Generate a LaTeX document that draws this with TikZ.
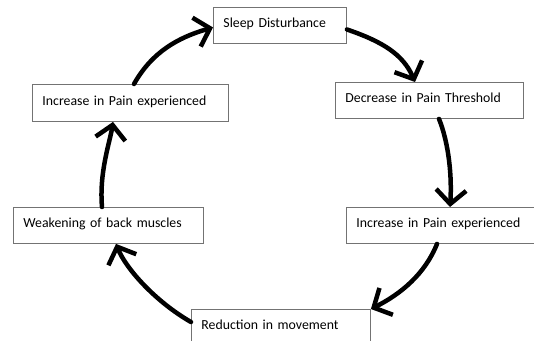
\documentclass[tikz,border=0pt]{standalone}
\usepackage{fontspec}
\setmainfont{Carlito}
\usetikzlibrary{arrows.meta}
\begin{document}
\begin{tikzpicture}[x=1pt,y=-1pt,
  stage/.style={draw=black!55, line width=0.9pt, anchor=north west,
    minimum height=36pt, inner xsep=10pt, inner ysep=0pt, align=left,
    text depth=5pt, font=\fontsize{13.8}{16}\selectfont},
  flow/.style={line width=4.5pt, line cap=round,
    -{Straight Barb[length=14pt,width=30pt]}}]
\useasboundingbox (0,0) rectangle (534,340);
\clip (0,0) rectangle (534,340);
\node[stage, text width=113pt] (sleep) at (213,7) {Sleep Disturbance};
\node[stage, text width=168pt] (dec) at (335,82) {Decrease in Pain Threshold};
\node[stage, text width=176pt, minimum height=37pt] (incL) at (32,84) {Increase in Pain experienced};
\node[stage, text width=170pt] (weak) at (13,207) {Weakening of back muscles};
\node[stage, text width=180pt] (incR) at (346,207) {Increase in Pain experienced};
\node[stage, text width=159pt] (red) at (191,309) {Reduction in movement};

\draw[flow] ([xshift=102pt]incL.north west) .. controls +(18,-32) and +(-35,10) .. ([yshift=-2pt]sleep.west);
\draw[flow] ([yshift=-4pt]sleep.east) .. controls +(35,12) and +(-12,-28) .. ([xshift=80pt]dec.north west);
\draw[flow] ([xshift=104pt]dec.south west) .. controls +(10,25) and +(2,-30) .. ([xshift=104pt]incR.north west);
\draw[flow] ([xshift=91pt]incR.south west) .. controls +(-12,30) and +(30,-15) .. (red.north east);
\draw[flow] ([yshift=-13pt]red.north west) .. controls +(-35,-20) and +(10,25) .. ([xshift=103pt]weak.south west);
\draw[flow] ([xshift=89pt]weak.north west) .. controls +(-3,-35) and +(-3,20) .. ([xshift=81pt]incL.south west);
\end{tikzpicture}
\end{document}
